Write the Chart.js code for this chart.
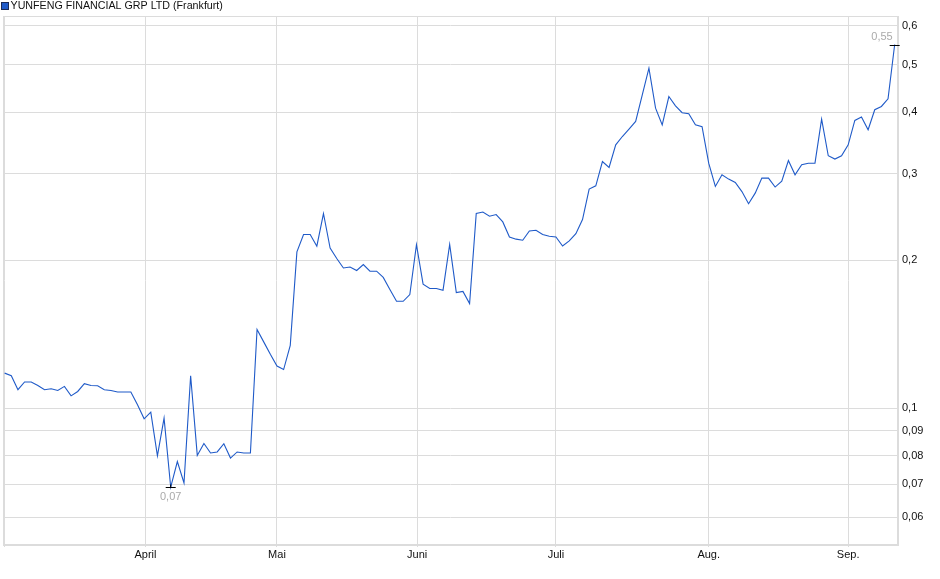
<!DOCTYPE html>
<html>
<head>
<meta charset="utf-8">
<script src="https://cdn.jsdelivr.net/npm/chart.js@4/dist/chart.umd.min.js"></script>
<style>
  html, body { margin: 0; padding: 0; background: #fff; }
  #wrap { width: 940px; height: 579px; }
</style>
</head>
<body>
<div id="wrap"><canvas id="kurs" width="940" height="579"></canvas></div>
<script>
var titel = 'YUNFENG FINANCIAL GRP LTD (Frankfurt)';

// Schlusskurse (EUR), ein Wert je Handelstag
var kurse = [
  0.1178, 0.1164, 0.1090, 0.1130, 0.1130, 0.1112, 0.1090, 0.1095, 0.1086, 0.1107,
  0.1059, 0.1081, 0.1121, 0.1112, 0.1110, 0.1090, 0.1086, 0.1078, 0.1078, 0.1078,
  0.1016, 0.0951, 0.0981, 0.0799, 0.0954, 0.0690, 0.0778, 0.0704, 0.1164, 0.0801,
  0.0847, 0.0810, 0.0814, 0.0846, 0.0791, 0.0814, 0.0810, 0.0810, 0.1446, 0.1364,
  0.1287, 0.1218, 0.1198, 0.1342, 0.2080, 0.2256, 0.2256, 0.2136, 0.2490, 0.2118,
  0.2016, 0.1929, 0.1938, 0.1906, 0.1960, 0.1900, 0.1900, 0.1845, 0.1744, 0.1650,
  0.1650, 0.1703, 0.2152, 0.1788, 0.1752, 0.1752, 0.1738, 0.2155, 0.1718, 0.1728,
  0.1632, 0.2490, 0.2508, 0.2458, 0.2478, 0.2394, 0.2230, 0.2208, 0.2197, 0.2294,
  0.2302, 0.2256, 0.2238, 0.2230, 0.2138, 0.2190, 0.2266, 0.2420, 0.2793, 0.2836,
  0.3177, 0.3090, 0.3437, 0.3573, 0.3699, 0.3834, 0.4345, 0.4923, 0.4080, 0.3773,
  0.4310, 0.4125, 0.3994, 0.3974, 0.3773, 0.3743, 0.3153, 0.2827, 0.2986, 0.2926,
  0.2880, 0.2760, 0.2607, 0.2740, 0.2940, 0.2940, 0.2819, 0.2898, 0.3193, 0.2986,
  0.3129, 0.3153, 0.3153, 0.3877, 0.3265, 0.3214, 0.3265, 0.3437, 0.3853, 0.3914,
  0.3688, 0.4051, 0.4114, 0.4265, 0.5500
];

// Monatsanfaenge (Position in Handelstagen) und Beschriftung
var monatPos = [21.2, 41, 62.1, 83, 106, 127];
var monatText = ['April', 'Mai', 'Juni', 'Juli', 'Aug.', 'Sep.'];

// y-Achse (logarithmisch)
var yTicks = [0.06, 0.07, 0.08, 0.09, 0.1, 0.2, 0.3, 0.4, 0.5, 0.6];

var schrift = '"Liberation Sans", Arial, sans-serif';

function komma(v) {
  return String(v).replace('.', ',');
}

// Rahmen und Titel
var rahmen = {
  id: 'rahmen',
  beforeDatasetsDraw: function (chart) {
    var c = chart.ctx, a = chart.chartArea;
    c.save();
    c.strokeStyle = '#dcdcdc';
    c.lineWidth = 1;
    c.strokeRect(Math.round(a.left) + 0.5, Math.round(a.top) + 0.5,
      Math.round(a.right - a.left) - 1, Math.round(a.bottom - a.top) - 1);
    c.restore();
  },
  afterDraw: function (chart) {
    var c = chart.ctx;
    c.save();
    c.fillStyle = '#1f5ac8';
    c.fillRect(1.5, 2.5, 7, 7);
    c.strokeStyle = '#1b2a55';
    c.lineWidth = 1;
    c.strokeRect(1.5, 2.5, 7, 7);
    c.fillStyle = '#111';
    c.font = '10.7px ' + schrift;
    c.textBaseline = 'middle';
    c.textAlign = 'left';
    c.fillText(titel, 10.5, 6.5);
    c.restore();
  }
};

// Tief- und Hochpunkt markieren
var extrema = {
  id: 'extrema',
  afterDatasetsDraw: function (chart) {
    var c = chart.ctx, sx = chart.scales.x, sy = chart.scales.y;
    var iMin = 0, iMax = 0;
    for (var i = 0; i < kurse.length; i++) {
      if (kurse[i] < kurse[iMin]) iMin = i;
      if (kurse[i] > kurse[iMax]) iMax = i;
    }
    c.save();
    c.strokeStyle = '#000';
    c.lineWidth = 1;
    c.font = '11px ' + schrift;
    c.fillStyle = '#aaa';

    var x = sx.getPixelForValue(iMin), y = Math.round(sy.getPixelForValue(kurse[iMin])) + 0.5;
    c.beginPath(); c.moveTo(x - 5, y); c.lineTo(x + 5, y); c.stroke();
    c.beginPath(); c.moveTo(x, y); c.lineTo(x, y - 3); c.stroke();
    c.textAlign = 'center'; c.textBaseline = 'top';
    c.fillText(komma(kurse[iMin].toFixed(2)), x, y + 4);

    x = sx.getPixelForValue(iMax); y = Math.round(sy.getPixelForValue(kurse[iMax])) + 0.5;
    c.beginPath(); c.moveTo(x - 5, y); c.lineTo(x + 5, y); c.stroke();
    c.textAlign = 'right'; c.textBaseline = 'bottom';
    c.fillText(komma(kurse[iMax].toFixed(2)), x - 2, y - 3);
    c.restore();
  }
};

var ctx = document.getElementById('kurs').getContext('2d');
var chart = new Chart(ctx, {
  type: 'line',
  data: {
    datasets: [{
      label: titel,
      data: kurse.map(function (v, i) { return { x: i, y: v }; }),
      borderColor: '#1f5ac8',
      borderWidth: 1.1,
      pointRadius: 0,
      tension: 0,
      fill: false
    }]
  },
  options: {
    responsive: false,
    animation: false,
    layout: { padding: { top: 16, left: 3, right: 0, bottom: 0 } },
    plugins: { legend: { display: false }, tooltip: { enabled: false } },
    scales: {
      x: {
        type: 'linear',
        min: -0.25,
        max: 134.5,
        afterBuildTicks: function (axis) {
          axis.ticks = [0].concat(monatPos).map(function (v) { return { value: v }; });
        },
        afterFit: function (axis) { axis.height = 34; },
        grid: { color: '#dcdcdc', drawTicks: true, tickLength: 2 },
        border: { color: '#dcdcdc' },
        ticks: {
          autoSkip: false,
          maxRotation: 0,
          padding: 1,
          color: '#111',
          font: { size: 11, family: schrift },
          callback: function (v) {
            var k = monatPos.indexOf(v);
            return k < 0 ? '' : monatText[k];
          }
        }
      },
      y: {
        type: 'logarithmic',
        position: 'right',
        min: 0.05262,
        max: 0.6287,
        afterBuildTicks: function (axis) {
          axis.ticks = yTicks.map(function (v) { return { value: v }; });
        },
        afterFit: function (axis) { axis.width = 42; },
        grid: { color: '#dcdcdc', drawTicks: false },
        border: { color: '#dcdcdc' },
        ticks: {
          padding: 4,
          color: '#111',
          font: { size: 11, family: schrift },
          callback: function (v) { return komma(v); }
        }
      }
    }
  },
  plugins: [rahmen, extrema]
});
</script>
</body>
</html>
